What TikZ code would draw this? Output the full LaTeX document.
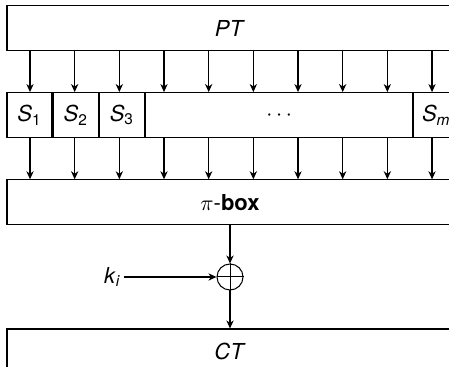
\documentclass[tikz,border=0pt]{standalone}
\usepackage{fontspec}
\setmainfont{TeX Gyre Heros}
\usepackage{tikz}
\usetikzlibrary{arrows.meta, positioning}

\begin{document}
\begin{tikzpicture}[x=0.5pt, y=-0.5pt, font=\fontsize{11}{13.2}\selectfont, line width=0.6pt]
		\tikzstyle{wide} = [rectangle, draw, minimum width=223pt, minimum height=22.5pt, inner sep=0pt]
		\tikzstyle{sbox} = [rectangle, draw, minimum width=22.5pt, minimum height=22.5pt, inner sep=0pt]
		\tikzstyle{line} = [draw, -{Stealth[length=4pt, width=3.6pt, inset=1.2pt]}]
		\tikzstyle{xorop} = [circle, draw, minimum size=13pt, inner sep=0pt, line width=0.5pt]
		
		\clip (0,0) rectangle (449,367);
		
		\node [wide] (pt) at (230,28) {\textit{PT}};
		
		\node [sbox, below=20.5pt of pt.south west, anchor=north west] (s1) {\textit{S}\textsubscript{1}};
		\node [sbox, right=0pt of s1] (s2) {\textit{S}\textsubscript{2}};
		\node [sbox, right=0pt of s2] (s3) {\textit{S}\textsubscript{3}};
		\node [sbox, right=0pt of s3, minimum width=133.5pt] (dots) {$\cdots$};
		\node [sbox, right=0pt of dots] (sm) {\textit{S}\textsubscript{\textit{m}}};
		
		\node [wide, below=20.5pt of s1.south west, anchor=north west] (pibox) {$\pi$-\textbf{box}};
		
		\node [xorop, below=19pt of pibox] (xor) {};
		\draw [line width=0.5pt] (xor.north) -- (xor.south) (xor.west) -- (xor.east);
		\node [left=46.5pt of xor, inner sep=1pt] (key) {\textit{k}\textsubscript{\textit{i}}};
		
		\node [wide, below=19pt of xor] (ct) {\textit{CT}};
		
		% ten wires through the S-boxes
		\foreach \i in {0,...,9} {
			\coordinate (a\i) at (30+44.67*\i, 0);
			\path [line] (pt.south -| a\i) -- (s1.north -| a\i);
			\path [line] (s1.south -| a\i) -- (pibox.north -| a\i);
		}
		
		\path [line] (pibox) -- (xor);
		\path [line] (key) -- (xor);
		\path [line] (xor) -- (ct);
	\end{tikzpicture}
\end{document}
